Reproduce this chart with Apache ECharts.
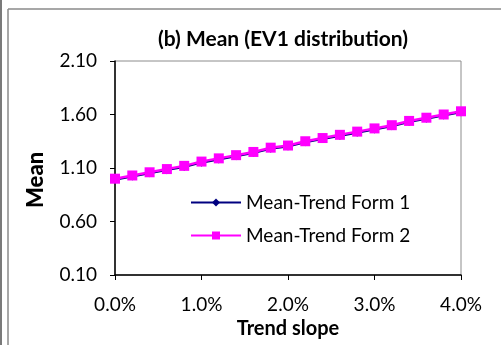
<!DOCTYPE html>
<html>
<head>
<meta charset="utf-8">
<script src="https://cdn.jsdelivr.net/npm/echarts@6/dist/echarts.min.js"></script>
<style>
  html, body { margin: 0; padding: 0; background: #fff; }
  #chart { width: 501px; height: 345px; }
</style>
</head>
<body>
<div id="chart"></div>
<script>
// Trend slope (fraction) and the resulting mean of the EV1 distribution
const slopes = [0, 0.002, 0.004, 0.006, 0.008, 0.010, 0.012, 0.014, 0.016, 0.018,
                0.020, 0.022, 0.024, 0.026, 0.028, 0.030, 0.032, 0.034, 0.036, 0.038, 0.040];
const meanForm1 = [0.99, 1.02, 1.05, 1.08, 1.11, 1.15, 1.18, 1.21, 1.24, 1.28,
                   1.30, 1.34, 1.37, 1.40, 1.43, 1.46, 1.49, 1.53, 1.56, 1.59, 1.62];
const meanForm2 = [1.00, 1.03, 1.06, 1.09, 1.12, 1.16, 1.19, 1.22, 1.25, 1.29,
                   1.31, 1.35, 1.38, 1.41, 1.44, 1.47, 1.50, 1.54, 1.57, 1.60, 1.63];
const yTicks = [0.10, 0.60, 1.10, 1.60, 2.10];
const xTicks = [0, 0.01, 0.02, 0.03, 0.04];

const FONT = 'Lato';
const chart = echarts.init(document.getElementById('chart'), null, { renderer: 'canvas' });

const pairs = (ys) => slopes.map((x, i) => [x, ys[i]]);

chart.setOption({
  animation: false,
  backgroundColor: '#fff',
  textStyle: { fontFamily: FONT },
  title: {
    text: '(b) Mean (EV1 distribution)',
    left: 278, top: 24, textAlign: 'center',
    textStyle: { fontFamily: FONT, fontWeight: 'bold', fontSize: 21, color: '#000' }
  },
  grid: { left: 115, right: 40, top: 61, bottom: 70, show: true,
          borderColor: '#8c8c8c', borderWidth: 1, backgroundColor: 'transparent' },
  legend: {
    left: 190, top: 193, orient: 'vertical', itemGap: 14, padding: 0,
    itemWidth: 50, itemHeight: 10,
    textStyle: { fontFamily: FONT, fontSize: 19, color: '#000' },
    data: ['Mean-Trend Form 1', 'Mean-Trend Form 2']
  },
  xAxis: {
    type: 'value', min: 0, max: 0.04, interval: 0.01,
    name: 'Trend slope', nameLocation: 'middle', nameGap: 40,
    nameTextStyle: { fontFamily: FONT, fontWeight: 'bold', fontSize: 20, color: '#000' },
    axisLine: { lineStyle: { color: '#000', width: 1.5 } },
    axisTick: { show: true, inside: false, length: 5, lineStyle: { color: '#000' }, customValues: xTicks },
    axisLabel: { fontFamily: FONT, fontSize: 19, color: '#000', margin: 20,
                 customValues: xTicks,
                 formatter: (v) => (v * 100).toFixed(1) + '%' },
    splitLine: { show: false }
  },
  yAxis: {
    type: 'value', min: 0.1, max: 2.1,
    axisLine: { show: true, lineStyle: { color: '#000', width: 1.5 } },
    axisTick: { show: true, inside: false, length: 5, lineStyle: { color: '#000' }, customValues: yTicks },
    axisLabel: { fontFamily: FONT, fontSize: 19, color: '#000', margin: 18,
                 customValues: yTicks,
                 formatter: (v) => v.toFixed(2) },
    splitLine: { show: false }
  },
  graphic: [
    { type: 'text', x: 25, y: 208, rotation: Math.PI / 2,
      style: { text: 'Mean', fontFamily: FONT, fontWeight: 900, fontSize: 22, fill: '#000' } },
    { type: 'line', shape: { x1: 1, y1: 0, x2: 1, y2: 345 }, style: { stroke: '#7a7a7a', lineWidth: 2 } },
    { type: 'line', shape: { x1: 8, y1: 9, x2: 8, y2: 345 }, style: { stroke: '#8a8a8a', lineWidth: 1.5 } },
    { type: 'line', shape: { x1: 8, y1: 9, x2: 501, y2: 9 }, style: { stroke: '#8a8a8a', lineWidth: 1.5 } }
  ],
  series: [
    {
      name: 'Mean-Trend Form 1', type: 'line', data: pairs(meanForm1),
      symbol: 'diamond', symbolSize: 8,
      itemStyle: { color: '#000080' },
      lineStyle: { color: '#000080', width: 2 },
      z: 2
    },
    {
      name: 'Mean-Trend Form 2', type: 'line', data: pairs(meanForm2),
      symbol: 'rect', symbolSize: 10,
      itemStyle: { color: '#ff00ff' },
      lineStyle: { color: '#ff00ff', width: 2.5 },
      z: 3
    }
  ]
});
</script>
</body>
</html>
